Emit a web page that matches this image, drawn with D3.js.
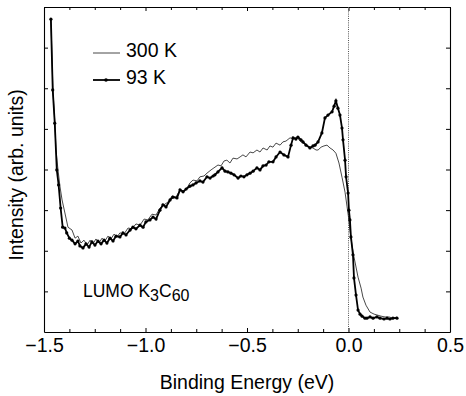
<!DOCTYPE html>
<html>
<head>
<meta charset="utf-8">
<script src="https://cdn.jsdelivr.net/npm/d3@7"></script>
<style>
  body { margin: 0; background: #fff; }
  text { font-family: 'Liberation Sans', Arial, sans-serif; fill: #000; }
</style>
</head>
<body>
<div id="main"></div>
<script>
const w = 466, h = 396
const margin = {top: 7, right: 16, bottom: 64, left: 44}

// 93 K spectrum (thick line with dots)
const energy93 = [-1.466,-1.457,-1.447,-1.437,-1.428,-1.418,-1.408,-1.397,-1.388,-1.375,
  -1.362,-1.347,-1.333,-1.323,-1.308,-1.293,-1.278,-1.264,-1.249,-1.234,
  -1.219,-1.204,-1.190,-1.175,-1.160,-1.145,-1.126,-1.111,-1.096,-1.076,
  -1.062,-1.047,-1.027,-1.012,-0.998,-0.978,-0.963,-0.948,-0.929,-0.914,
  -0.899,-0.879,-0.865,-0.845,-0.830,-0.815,-0.800,-0.781,-0.766,-0.751,
  -0.732,-0.717,-0.697,-0.682,-0.667,-0.658,-0.643,-0.623,-0.608,-0.594,
  -0.579,-0.564,-0.544,-0.530,-0.515,-0.500,-0.485,-0.470,-0.451,-0.436,
  -0.421,-0.406,-0.392,-0.372,-0.357,-0.337,-0.318,-0.298,-0.283,-0.273,
  -0.259,-0.249,-0.234,-0.224,-0.209,-0.190,-0.175,-0.165,-0.150,-0.131,
  -0.116,-0.101,-0.081,-0.071,-0.062,-0.052,-0.042,-0.032,-0.027,-0.017,
  -0.012,-0.002,0.002,0.007,0.012,0.022,0.027,0.037,0.047,0.057,
  0.067,0.081,0.091,0.106,0.121,0.140,0.155,0.175,0.190,0.204,
  0.219,0.239]
const intensity93 = [7.70,5.96,5.14,3.99,3.62,3.05,2.58,2.56,2.44,2.31,
  2.26,2.17,2.24,2.12,2.07,2.17,2.09,2.22,2.14,2.24,
  2.17,2.26,2.19,2.31,2.24,2.36,2.34,2.44,2.39,2.51,
  2.58,2.54,2.63,2.58,2.71,2.76,2.83,2.78,3.00,3.13,
  3.08,3.25,3.32,3.30,3.50,3.45,3.52,3.59,3.62,3.67,
  3.72,3.69,3.82,3.79,3.84,3.87,3.94,4.04,3.96,3.94,
  3.91,3.87,3.79,3.84,3.82,3.87,3.91,3.96,4.04,3.99,
  4.09,4.11,4.19,4.19,4.31,4.43,4.36,4.31,4.60,4.78,
  4.75,4.80,4.73,4.68,4.60,4.53,4.58,4.60,4.68,4.90,
  5.27,5.34,5.42,5.56,5.69,5.51,5.34,5.02,4.73,4.23,
  3.82,3.42,3.00,2.76,2.34,1.90,1.33,0.91,0.54,0.44,
  0.39,0.34,0.34,0.37,0.34,0.37,0.34,0.32,0.34,0.32,
  0.34,0.34]

// 300 K spectrum (thin line)
const energy300 = [-1.466,-1.456,-1.446,-1.441,-1.431,-1.421,-1.411,-1.397,-1.382,-1.362,
  -1.347,-1.333,-1.318,-1.303,-1.288,-1.273,-1.259,-1.244,-1.229,-1.214,
  -1.200,-1.185,-1.170,-1.155,-1.140,-1.126,-1.106,-1.086,-1.067,-1.047,
  -1.027,-1.007,-0.988,-0.968,-0.948,-0.929,-0.909,-0.889,-0.869,-0.850,
  -0.830,-0.810,-0.796,-0.781,-0.766,-0.746,-0.732,-0.712,-0.697,-0.677,
  -0.663,-0.643,-0.628,-0.613,-0.599,-0.584,-0.569,-0.549,-0.534,-0.520,
  -0.505,-0.485,-0.470,-0.451,-0.436,-0.421,-0.401,-0.387,-0.372,-0.357,
  -0.337,-0.323,-0.308,-0.288,-0.273,-0.254,-0.239,-0.224,-0.204,-0.190,
  -0.175,-0.160,-0.150,-0.135,-0.121,-0.106,-0.091,-0.076,-0.062,-0.047,
  -0.032,-0.017,-0.007,0.002,0.007,0.017,0.027,0.037,0.047,0.062,
  0.071,0.086,0.106,0.126,0.140,0.160,0.180,0.200,0.219,0.239]
const intensity300 = [7.70,5.96,5.10,4.48,3.99,3.57,3.25,2.93,2.58,2.51,
  2.31,2.36,2.19,2.26,2.14,2.26,2.17,2.29,2.19,2.31,
  2.24,2.36,2.29,2.41,2.34,2.44,2.41,2.56,2.54,2.66,
  2.63,2.78,2.76,2.90,2.88,3.05,3.13,3.20,3.35,3.32,
  3.50,3.47,3.54,3.67,3.74,3.72,3.82,3.84,3.91,3.99,
  4.04,4.11,4.09,4.21,4.23,4.16,4.28,4.26,4.31,4.36,
  4.31,4.43,4.41,4.48,4.43,4.53,4.48,4.58,4.55,4.65,
  4.60,4.68,4.70,4.78,4.75,4.80,4.70,4.65,4.60,4.55,
  4.53,4.48,4.48,4.55,4.58,4.60,4.53,4.48,4.40,4.16,
  3.81,3.44,3.08,2.76,2.51,2.14,1.85,1.60,1.35,1.08,
  0.86,0.66,0.49,0.44,0.42,0.39,0.37,0.37,0.34,0.37]

const xTickLabels = [-1.5, -1.0, -0.5, 0.0, 0.5]
const xMinorStep = 0.125
const yTicks = [1, 2, 3, 4, 5, 6, 7]

const svg = d3.select('#main')
            .append('svg')
            .attr('width', w)
            .attr('height', h)

const xScale = d3.scaleLinear()
                .domain([-1.5, 0.5])
                .range([margin.left, w - margin.right])
const yScale = d3.scaleLinear()
                .domain([0, 8])
                .range([h - margin.bottom, margin.top])

const xTicks = d3.range(0, 17).map(i => -1.5 + i * xMinorStep)
const isMajor = v => xTickLabels.some(t => Math.abs(t - v) < 1e-6)
const fmt = d3.format('.1f')

// bottom axis (ticks point inward)
const xAxis = d3.axisBottom(xScale)
                .tickValues(xTicks)
                .tickSizeInner(-3)
                .tickSizeOuter(0)
                .tickPadding(6)
                .tickFormat(d => isMajor(d) ? fmt(d) : '')
const gx = svg.append('g')
    .attr('transform', 'translate(0,' + (h - margin.bottom) + ')')
    .call(xAxis)
gx.selectAll('.tick line').attr('y2', d => isMajor(d) ? -4 : -3)

const gxTop = svg.append('g')
    .attr('transform', 'translate(0,' + margin.top + ')')
    .call(d3.axisTop(xScale).tickValues(xTicks).tickSizeInner(-3).tickSizeOuter(0).tickFormat(''))
gxTop.selectAll('.tick line').attr('y2', d => isMajor(d) ? 4 : 3)

svg.append('g')
    .attr('transform', 'translate(' + margin.left + ',0)')
    .call(d3.axisLeft(yScale).tickValues(yTicks).tickSizeInner(-4).tickSizeOuter(0).tickFormat(''))
svg.append('g')
    .attr('transform', 'translate(' + (w - margin.right) + ',0)')
    .call(d3.axisRight(yScale).tickValues(yTicks).tickSizeInner(-4).tickSizeOuter(0).tickFormat(''))

svg.selectAll('.domain').attr('stroke', '#000').attr('stroke-width', 1.1)
svg.selectAll('.tick line').attr('stroke', '#000')
gx.selectAll('.tick text').style('font-size', '19.5px')

// Fermi level
svg.append('line')
    .attr('x1', xScale(0)).attr('x2', xScale(0))
    .attr('y1', yScale(8)).attr('y2', yScale(0))
    .attr('stroke', '#555')
    .attr('stroke-width', 1)
    .attr('stroke-dasharray', '1,1.2')

const data300 = energy300.map((e, i) => [e, intensity300[i]])
const data93 = energy93.map((e, i) => [e, intensity93[i]])
const line = d3.line().x(d => xScale(d[0])).y(d => yScale(d[1]))

svg.append('path')
    .datum(data300)
    .attr('d', line)
    .attr('fill', 'none')
    .attr('stroke', '#333')
    .attr('stroke-width', 0.9)

svg.append('path')
    .datum(data93)
    .attr('d', line)
    .attr('fill', 'none')
    .attr('stroke', '#000')
    .attr('stroke-width', 1.8)

svg.selectAll('circle.pt')
    .data(data93)
    .enter()
    .append('circle')
    .attr('class', 'pt')
    .attr('cx', d => xScale(d[0]))
    .attr('cy', d => yScale(d[1]))
    .attr('r', 1.6)
    .attr('fill', '#000')

// axis titles
svg.append('text')
    .text('Binding Energy (eV)')
    .attr('x', (margin.left + w - margin.right) / 2)
    .attr('y', 389)
    .attr('text-anchor', 'middle')
    .style('font-size', '19.5px')

svg.append('text')
    .text('Intensity (arb. units)')
    .attr('x', -175)
    .attr('y', 23)
    .attr('transform', 'rotate(-90)')
    .attr('text-anchor', 'middle')
    .style('font-size', '19.5px')

// legend
const legend = svg.append('g').attr('id', 'legend')
legend.append('line')
    .attr('x1', 93).attr('x2', 120).attr('y1', 53).attr('y2', 53)
    .attr('stroke', '#333').attr('stroke-width', 0.9)
legend.append('text')
    .text('300 K')
    .attr('x', 126).attr('y', 56.5)
    .style('font-size', '19.5px')
legend.append('line')
    .attr('x1', 93).attr('x2', 120).attr('y1', 80).attr('y2', 80)
    .attr('stroke', '#000').attr('stroke-width', 1.8)
legend.append('circle')
    .attr('cx', 106).attr('cy', 80).attr('r', 1.8).attr('fill', '#000')
legend.append('text')
    .text('93 K')
    .attr('x', 126).attr('y', 83.5)
    .style('font-size', '19.5px')

// sample label
const lumo = svg.append('text')
    .attr('x', 83).attr('y', 297)
    .style('font-size', '17.5px')
lumo.append('tspan').text('LUMO K')
lumo.append('tspan').text('3').attr('dy', 4).style('font-size', '16px')
lumo.append('tspan').text('C').attr('dy', -4)
lumo.append('tspan').text('60').attr('dy', 4).style('font-size', '16px')
</script>
</body>
</html>
